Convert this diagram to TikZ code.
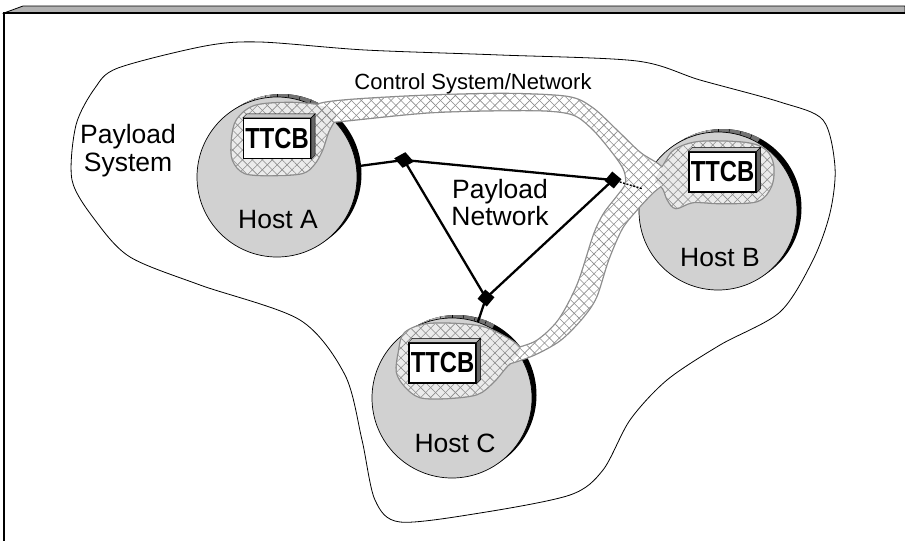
\documentclass[tikz,border=0pt]{standalone}
\usepackage{fontspec}
\usepackage{graphicx}
\setmainfont{Liberation Sans}
\usetikzlibrary{patterns.meta,shapes.geometric}
\definecolor{hostgray}{gray}{0.82}
\definecolor{hatchgray}{gray}{0.55}
\newcommand\hostdisk[3]{%
  \fill[black] ({#1+4.5},{#2-3}) circle[radius=#3];
  \begin{scope}
    \clip (#1,#2) -- +(-60:{1.5*#3}) -- +(-95:{1.5*#3}) -- +(-130:{1.5*#3}) -- cycle;
    \clip ({#1+4.5},{#2-3}) circle[radius=#3];
    \fill[black!30] (#1,#2) -- +(-95:{1.5*#3}) -- +(-130:{1.5*#3}) -- cycle;
    \fill[black!55] (#1,#2) -- +(-60:{1.5*#3}) -- +(-95:{1.5*#3}) -- cycle;
    \foreach \a in {-66,-74,...,-128} \draw[line width=0.5] (#1,#2) +(\a:{#3-3}) -- +(\a:{#3+7});
  \end{scope}
  \fill[hostgray] (#1,#2) circle[radius=#3];
  \draw[line width=0.7] (#1,#2) circle[radius=#3];
}
\newcommand\ttcb[3]{%
  \node[ttcbbox] (#1) at (#2,#3) {\scalebox{0.82}[1]{TTCB}};
  \filldraw[fill=black!22,line width=0.4] (#1.north west) -- ++(4,-4) -- ([shift={(4,-4)}]#1.north east) -- (#1.north east) -- cycle;
  \filldraw[fill=black!60,line width=0.4] (#1.north east) -- ([shift={(4,-4)}]#1.north east) -- ([shift={(4,-4)}]#1.south east) -- (#1.south east) -- cycle;
}
\def\bandpath{plot[smooth cycle,tension=0.5] coordinates {
  (320,104) (400,97) (500,94) (567,97) (592,108) (617,131) (640,153) (660,166) (667,179)
  (652,193) (638,208) (622,228) (608,260) (596,297) (582,318) (560,340) (533,355) (505,364) (497,358)
  (513,350) (537,341) (559,320) (578,284) (594,235) (604,214) (617,197) (626,184) (624,169)
  (611,150) (592,128) (572,114) (533,110) (433,112) (340,121) (322,122)}}
\def\regA{plot[smooth cycle,tension=0.55] coordinates {
  (232,140) (237,120) (255,106) (290,103) (322,106) (336,114) (328,132) (322,150) (314,164)
  (302,173) (272,175) (245,173) (233,160)}}
\def\regB{plot[smooth cycle,tension=0.55] coordinates {
  (655,180) (664,165) (675,150) (700,142) (745,143) (765,150) (773,165) (771,186) (757,201)
  (720,203) (693,202) (676,208) (668,200) (663,188)}}
\def\regC{plot[smooth cycle,tension=0.55] coordinates {
  (399,352) (405,333) (430,324) (477,326) (503,336) (520,350) (505,368) (493,382) (477,394)
  (447,398) (420,397) (405,386) (397,372)}}
\tikzset{
  lbl/.style={font=\fontsize{26.5}{30}\selectfont, anchor=base, inner sep=0},
  smalllbl/.style={font=\fontsize{22}{26}\selectfont, anchor=base, inner sep=0},
  ttcbbox/.style={draw, line width=1.3, fill=white, minimum width=67pt, minimum height=40pt,
    inner sep=0, font=\fontsize{29}{32}\selectfont\bfseries},
  hostnode/.style={circle, inner sep=0, minimum size=#1},
  netline/.style={line width=2.3},
  hatchA/.style={pattern={Lines[angle=45,distance=7pt,line width=0.6pt]}, pattern color=hatchgray},
  hatchB/.style={pattern={Lines[angle=-45,distance=7pt,line width=0.6pt]}, pattern color=hatchgray},
}
\begin{document}
\begin{tikzpicture}[x=1pt,y=-1pt]
\useasboundingbox (0,0) rectangle (905,541);
% frame
\filldraw[fill=black!30,line width=0.8] (4,13) -- (23,6) -- (905,6) -- (905,13) -- cycle;
\draw[line width=1.3] (905,13) -- (4,13) -- (4,541);
% payload system outline
\draw[line width=0.8] plot[smooth cycle,tension=0.5] coordinates {
  (118,68) (205,46) (260,42) (365,50) (500,55) (637,61) (700,80) (780,102) (823,120) (835,167)
  (830,213) (813,260) (780,312) (720,345) (667,380) (630,420) (603,470) (570,495) (480,513)
  (400,522) (375,500) (362,440) (345,375) (300,320) (200,285) (130,257) (95,220) (72,180)
  (76,125) (95,88)};
% hosts
\hostdisk{277}{177}{80}
\hostdisk{718}{211}{79}
\hostdisk{452}{398}{80}
\node[hostnode=160pt] (hA) at (277,177) {};
\node[hostnode=158pt] (hB) at (718,211) {};
\node[hostnode=160pt] (hC) at (452,398) {};
% control system / network (hatched)
\draw[hatchgray,line width=2.6] \bandpath;
\draw[hatchgray,line width=2.6] \regA;
\draw[hatchgray,line width=2.6] \regB;
\draw[hatchgray,line width=2.6] \regC;
\fill[white] \bandpath;
\fill[black!8] \regA;
\fill[black!8] \regB;
\fill[black!8] \regC;
\foreach \p in {\bandpath,\regA,\regB,\regC}{
  \fill[hatchA] \p;
  \fill[hatchB] \p;
}
% payload network
\node[diamond, fill, inner sep=0, minimum width=20pt, minimum height=16pt, rotate=-10] (nd) at (404,160) {};
\node[fill, inner sep=0, minimum size=12pt, rotate=-40] (nb) at (613,180) {};
\node[fill, inner sep=0, minimum size=12pt, rotate=-40] (nc) at (486,298) {};
\draw[netline] (hA) -- (nd.center);
\draw[netline] (nd.center) -- (nb.center);
\draw[netline] (nd.center) -- (nc.center);
\draw[netline] (nb.center) -- (nc.center);
\draw[netline] (nc.center) -- (hC);
\draw[line width=1.4, dash pattern=on 2pt off 1.5pt] (nb.center) -- (hB);
% TTCB boxes
\ttcb{tA}{277}{138.5}
\ttcb{tB}{722.5}{172}
\ttcb{tC}{442.5}{363}
% labels
\node[lbl] (ps1) at (128,143.5) {Payload};
\node[lbl] (ps2) at (128,171.5) {System};
\node[lbl] (pn1) at (500,198.5) {Payload};
\node[lbl] (pn2) at (500,225.5) {Network};
\node[smalllbl] (cs) at (473,89) {Control System/Network};
\node[lbl] (la) at (278,228) {Host A};
\node[lbl] (lb) at (720,266) {Host B};
\node[lbl] (lc) at (455,452) {Host C};
\end{tikzpicture}
\end{document}
